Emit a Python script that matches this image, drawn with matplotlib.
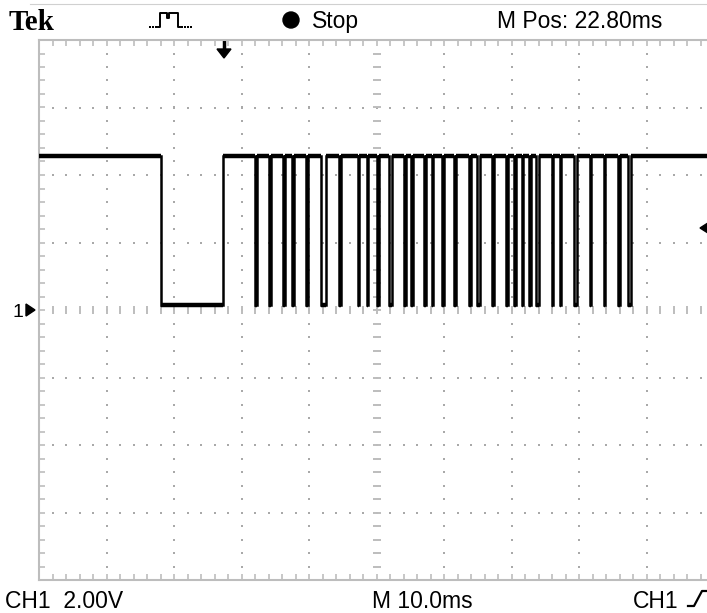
import matplotlib.pyplot as plt
from matplotlib.patches import Circle, Polygon
import numpy as np

# SCREEN SETTINGS
# ---------------
W, H = 707, 613               # output size in pixels
ms_per_div = 10.0
volts_per_div = 2.0
n_xdiv, n_ydiv = 10, 8

# trace levels (V)
v_high = 4.56
v_low = 0.16

# low intervals of the trace, ms from the left edge of the graticule
low_start = [18.07, 32.02, 34.00, 36.16, 37.41, 39.56, 41.85, 44.46, 47.20,
             48.53, 50.09, 51.78, 54.09, 55.11, 57.05, 58.16, 59.72, 61.50,
             63.72, 64.96, 67.13, 69.20, 70.39, 71.50, 72.61, 73.70, 75.94,
             77.13, 79.19, 81.57, 83.64, 85.79, 87.33]
low_end = [27.26, 32.28, 34.44, 36.43, 37.85, 39.83, 42.59, 44.73, 47.47,
           48.80, 50.36, 52.37, 54.36, 55.48, 57.32, 58.43, 59.99, 61.76,
           63.98, 65.26, 67.39, 69.47, 70.65, 71.76, 72.87, 74.00, 76.21,
           77.39, 79.63, 81.83, 83.91, 86.06, 87.63]

# header / footer readouts
brand = 'Tek'
run_state = 'Stop'
m_pos = 'M Pos: 22.80ms'
ch_scale = 'CH1  2.00V'
time_scale = 'M 10.0ms'
trig_src = 'CH1'
trig_level = 2.43   # V

grid_col = '#bdbdbd'
dot_col = '#a9a9a9'

# FIGURE
# ------
fig = plt.figure(figsize=(W / 100, H / 100), dpi=100)
fig.patch.set_facecolor('white')

# overlay in pixel coordinates for readouts and markers
ov = fig.add_axes([0, 0, 1, 1])
ov.set_xlim(0, W)
ov.set_ylim(H, 0)
ov.axis('off')

# graticule axes (right edge runs off the picture, as in the screenshot)
gx0, gy0, div = 39, 40, 67.5
ax = fig.add_axes([gx0 / W, (H - gy0 - n_ydiv * div) / H,
                   n_xdiv * div / W, n_ydiv * div / H])
ax.set_facecolor('none')
xmax = n_xdiv * ms_per_div
ymax = n_ydiv / 2 * volts_per_div
ax.set_xlim(0, xmax)
ax.set_ylim(-ymax, ymax)
for s in ax.spines.values():
    s.set_color(grid_col)
    s.set_linewidth(1.5)

# border ticks every 1/5 div
ax.set_xticks(np.arange(0, xmax + 0.01, ms_per_div / 5))
ax.set_yticks(np.arange(-ymax, ymax + 0.01, volts_per_div / 5))
ax.tick_params(direction='in', length=4, width=1.2, color=grid_col,
               top=True, bottom=True, left=True, right=False,
               labelbottom=False, labelleft=False)

# dotted division lines
xs_minor = np.arange(0, xmax + 0.01, ms_per_div / 5)[1:-1]
ys_minor = np.arange(-ymax, ymax + 0.01, volts_per_div / 5)[1:-1]
for i in range(1, n_xdiv):
    if i == n_xdiv // 2:
        continue
    ax.scatter(np.full(len(ys_minor), i * ms_per_div), ys_minor, marker='s',
               s=2.2, color=dot_col, linewidths=0, zorder=1)
for j in range(1, n_ydiv):
    if j == n_ydiv // 2:
        continue
    yv = -ymax + j * volts_per_div
    ax.scatter(xs_minor, np.full(len(xs_minor), yv), marker='s',
               s=2.2, color=dot_col, linewidths=0, zorder=1)

# centre crosshair with small tick dashes
ax.scatter(xs_minor, np.zeros(len(xs_minor)), marker='|', s=30,
           color=grid_col, linewidths=1.4, zorder=1)
ax.scatter(np.full(len(ys_minor), xmax / 2), ys_minor, marker='_', s=30,
           color=grid_col, linewidths=1.4, zorder=1)

# TRACE
# -----
edges = np.ravel(np.column_stack([low_start, low_end]))
t = np.concatenate([[0], edges, [xmax]])
v = np.array([v_high] + [v_low if k % 2 == 0 else v_high
                         for k in range(len(edges))] + [v_high])
# thin edges, heavier flat levels (as the scope's pixel trace)
ax.plot(t, v, drawstyle='steps-post', color='black', lw=1.8,
        solid_joinstyle='miter', zorder=5)
ax.hlines(v[:-1], t[:-1], t[1:], color='black', lw=3.2,
          capstyle='butt', zorder=5)

# READOUTS
# --------
sans = ['Liberation Sans', 'DejaVu Sans']
ov.plot([30, W], [4, 4], color='#d0d0d0', lw=0.8)
ov.text(9, 30, brand, family=['Liberation Serif', 'DejaVu Serif'],
        weight='bold', fontsize=21, va='baseline', ha='left')
ov.add_patch(Circle((291, 20), 8, color='black'))
ov.text(312, 28, run_state, family=sans, fontsize=16.5, va='baseline')
ov.text(497, 28, m_pos, family=sans, fontsize=16.5, va='baseline')
ov.text(5, 608, ch_scale, family=sans, fontsize=16.5, va='baseline')
ov.text(372, 608, time_scale, family=sans, fontsize=16.5, va='baseline')
ov.text(633, 608, trig_src, family=sans, fontsize=16.5, va='baseline')
ov.plot([688, 694, 702, W], [606, 606, 591, 591], color='black', lw=1.6)

# acquisition mode icon
ov.scatter([150, 153, 156, 182, 185, 188, 191], [27] * 7, marker='s', s=2,
           color='black', linewidths=0)
ov.plot([158, 160, 160, 167, 167, 169, 169, 178, 178, 180],
        [27, 27, 13, 13, 18, 18, 13, 13, 27, 27], color='black', lw=1.4)

# trigger position marker (top)
ov.plot([224, 224], [42, 50], color='black', lw=2.5)
ov.add_patch(Polygon([[217, 49], [231, 49], [224, 58]], color='black'))

# ground reference marker (left)
y_gnd = gy0 + n_ydiv / 2 * div
ov.text(12, y_gnd + 7, '1', family=sans, fontsize=14, va='baseline')
ov.add_patch(Polygon([[26, y_gnd - 6], [26, y_gnd + 6], [35, y_gnd]],
                     color='black'))

# trigger level marker (right edge)
y_trig = y_gnd - trig_level / volts_per_div * div
ov.add_patch(Polygon([[700, y_trig], [711, y_trig - 7], [711, y_trig + 7]],
                     color='black'))

fig.savefig('out.png', dpi=100)
